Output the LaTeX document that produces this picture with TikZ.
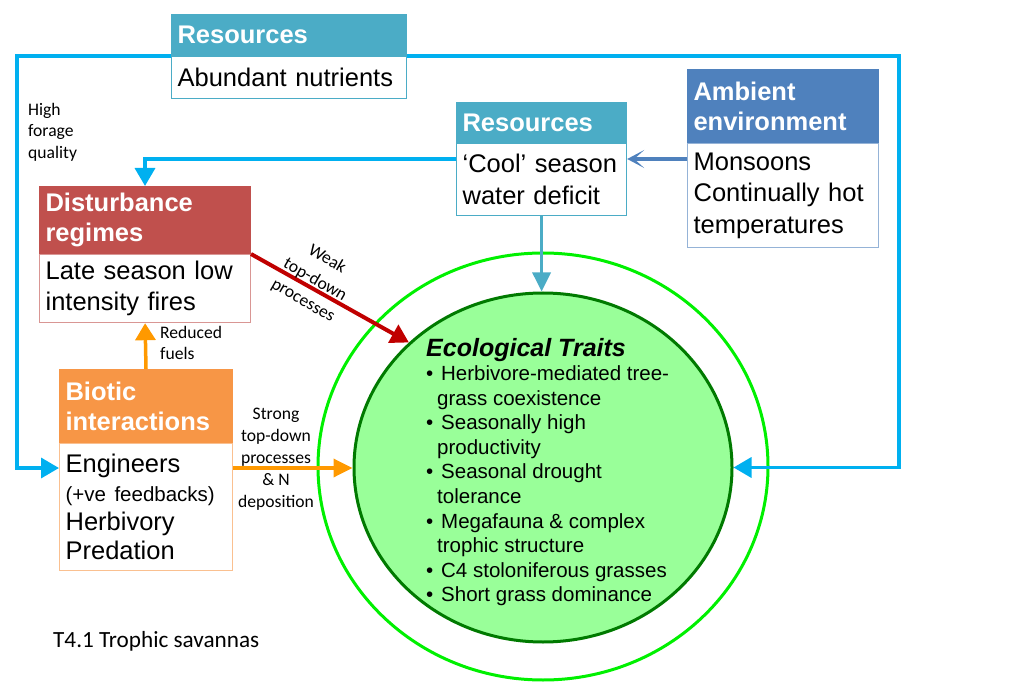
\documentclass[tikz,border=0pt]{standalone}
\usepackage{fontspec}
\setmainfont{Liberation Sans}
\newfontfamily\labelfont{Carlito}
\usetikzlibrary{arrows.meta,calc,shapes.geometric}

\definecolor{resteal}{HTML}{4BACC6}
\definecolor{ambblue}{HTML}{4F81BD}
\definecolor{ambedge}{HTML}{95B3D7}
\definecolor{distred}{HTML}{C0504D}
\definecolor{distedge}{HTML}{D99694}
\definecolor{bioorange}{HTML}{F79646}
\definecolor{bioedge}{HTML}{FAC090}
\definecolor{loopblue}{HTML}{00B0F0}
\definecolor{firered}{HTML}{C00000}
\definecolor{fuelorange}{HTML}{FF9900}
\definecolor{ringgreen}{HTML}{00F000}
\definecolor{traitfill}{HTML}{99FF99}
\definecolor{traitedge}{HTML}{007A00}

\newcommand{\bul}{\makebox[15pt][l]{\textbullet}}
\newcommand{\cnt}{\hspace*{11pt}}

\tikzset{
  headbox/.style={anchor=north west, inner xsep=6pt, inner ysep=0pt, align=left,
    font=\fontsize{25.5}{30}\selectfont\bfseries, text=white, line width=1pt},
  bodybox/.style={anchor=north west, inner xsep=6pt, inner ysep=0pt, align=left,
    font=\fontsize{25.5}{31.5}\selectfont, fill=white, line width=1.2pt},
  note/.style={font=\labelfont\fontsize{17.6}{21.5}\selectfont, inner sep=0pt},
  tip/.style={-{Triangle[length=18pt,width=20pt]}},
  loopline/.style={draw=loopblue, line width=3.5pt},
}

\begin{document}
\begin{tikzpicture}[x=1pt, y=-1pt]
\useasboundingbox (0,0) rectangle (1011,700);

% central trait ellipses
\node[ellipse, draw=ringgreen, line width=3pt, minimum width=450, minimum height=427, inner sep=0pt] (ring) at (543,466.5) {};
\node[ellipse, fill=traitfill, draw=traitedge, line width=3pt, minimum width=378, minimum height=349, inner sep=0pt] (et) at (543,467.5) {};

% boxes
\node[headbox, fill=resteal, draw=resteal, text width=223, minimum height=41] (r1h) at (171,14) {Resources};
\node[bodybox, draw=resteal, text width=223, minimum height=42] (r1b) at (r1h.south west) {Abundant nutrients};

\node[headbox, fill=resteal, draw=resteal, text width=158, minimum height=40] (r2h) at (456,102) {Resources};
\node[bodybox, draw=resteal, text width=158, minimum height=72] (r2b) at (r2h.south west) {‘Cool’ season\\water deficit};

\node[headbox, fill=ambblue, draw=ambblue, text width=179, minimum height=73] (ah) at (687,69) {Ambient\\environment};
\node[bodybox, draw=ambedge, text width=179, minimum height=104] (ab) at (ah.south west) {Monsoons\\Continually hot\\temperatures};

\node[headbox, fill=distred, draw=distred, text width=199, minimum height=67] (dh) at (39,186) {Disturbance\\regimes};
\node[bodybox, draw=distedge, text width=199, minimum height=68] (db) at (dh.south west) {Late season low\\intensity fires};

\node[headbox, fill=bioorange, draw=bioorange, text width=161, minimum height=73] (bh) at (59,369) {Biotic\\interactions};
\node[bodybox, draw=bioedge, text width=161, minimum height=127, font=\fontsize{25.5}{29}\selectfont] (bb) at (bh.south west)
  {Engineers\\{\fontsize{20.5}{24}\selectfont(+ve feedbacks)}\\Herbivory\\Predation};

% connectors
\coordinate (loopL) at ($(bb.north west)+(0,25)$);
\coordinate (bioR) at ($(bb.north east)+(0,25)$);
\draw[loopline, tip] (r1h.south west) -| (17,300) |- (loopL);
\draw[loopline, tip] (r1h.south east) -| (899,300) |- (et.east);
\draw[loopline, tip] ($(r2b.north west)+(0,16)$) -| (dh.north);
\draw[draw=ambblue, line width=3.5pt, -{Stealth[length=17pt,width=18pt,inset=10pt]}] ($(ab.north west)+(0,16)$) -- ($(r2b.north east)+(0,16)$);
\draw[draw=resteal, line width=3.5pt, -{Triangle[length=19pt,width=18pt]}] (r2b.south) -- (r2b.south |- et.north);
\draw[draw=firered, line width=4pt, tip] (dh.south east) -- (et.137);
\draw[draw=fuelorange, line width=3.5pt, -{Triangle[length=17pt,width=20pt]}] (bh.north) -- (db.south);
\draw[draw=fuelorange, line width=3.5pt, -{Triangle[length=19pt,width=18pt]}] (bioR) -- (bioR -| et.west);

% trait text
\node[anchor=base west, inner sep=0pt, font=\fontsize{25}{30}\selectfont\bfseries\itshape] (ttl) at (426,356) {Ecological Traits};
\node[anchor=north west, inner sep=0pt, align=left, font=\fontsize{20.5}{24.6}\selectfont] (lst) at (426,365.5)
  {\bul Herbivore-mediated tree-\\
   \cnt grass coexistence\\
   \bul Seasonally high\\
   \cnt productivity\\
   \bul Seasonal drought\\
   \cnt tolerance\\
   \bul Megafauna \& complex\\
   \cnt trophic structure\\
   \bul C4 stoloniferous grasses\\
   \bul Short grass dominance};

% connector labels
\node[note, anchor=north west, align=left] (lblHF) at (28,103) {High\\forage\\quality};
\node[note, anchor=north west, align=left] (lblRF) at (160,326) {Reduced\\fuels};
\node[note, align=center, font=\labelfont\fontsize{17.6}{22}\selectfont] (lblST) at (276,459) {Strong\\top-down\\processes\\\& N\\deposition};
\node[note, align=center, rotate=-30, font=\labelfont\fontsize{17.6}{24}\selectfont] (lblWK) at (315,280) {Weak\\top-down\\processes};
\node[anchor=west, inner sep=0pt, font=\labelfont\fontsize{23.2}{28}\selectfont] (cap) at (53,641) {T4.1 Trophic savannas};
\end{tikzpicture}
\end{document}
